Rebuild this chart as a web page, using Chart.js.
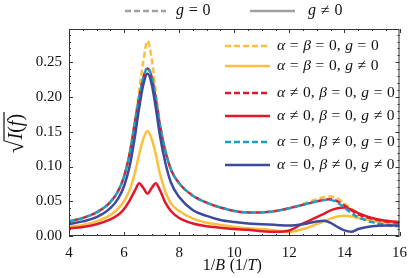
<!DOCTYPE html>
<html>
<head>
<meta charset="utf-8">
<script src="https://cdn.jsdelivr.net/npm/chart.js@4.4.1/dist/chart.umd.min.js"></script>
<style>
  html, body { margin: 0; padding: 0; background: #fff; }
  canvas { display: block; }
</style>
</head>
<body>
<canvas id="myChart" width="415" height="278"></canvas>
<script>
// x positions (1/B) shared by all curves
const xs = [4, 4.5, 5, 5.5, 5.8, 6.0, 6.2, 6.4, 6.55, 6.7, 6.85, 7.0, 7.15, 7.3, 7.5, 7.7, 8.0, 8.5, 9, 9.5,
            10, 10.5, 11, 11.5, 12, 12.5, 13, 13.25, 13.5, 13.75, 14, 14.25, 14.5, 15, 15.5, 16];

// sqrt(I(f))
const yellowDash = [0.021, 0.026, 0.034, 0.049, 0.066, 0.086, 0.119, 0.168, 0.210, 0.252, 0.281, 0.256, 0.208, 0.163, 0.123, 0.096, 0.076, 0.058, 0.048, 0.041,
                    0.036, 0.034, 0.034, 0.036, 0.040, 0.046, 0.053, 0.056, 0.057, 0.054, 0.047, 0.039, 0.032, 0.025, 0.022, 0.020];
const yellowSolid = [0.013, 0.016, 0.021, 0.030, 0.040, 0.050, 0.066, 0.092, 0.118, 0.140, 0.151, 0.140, 0.118, 0.090, 0.064, 0.047, 0.036, 0.025, 0.019, 0.016,
                     0.013, 0.011, 0.010, 0.008, 0.006, 0.010, 0.017, 0.021, 0.025, 0.028, 0.029, 0.028, 0.026, 0.022, 0.019, 0.017];
const redDash = [0.021, 0.026, 0.034, 0.049, 0.066, 0.086, 0.118, 0.165, 0.200, 0.228, 0.241, 0.229, 0.198, 0.160, 0.122, 0.096, 0.076, 0.058, 0.048, 0.041,
                 0.036, 0.034, 0.034, 0.036, 0.040, 0.045, 0.050, 0.052, 0.053, 0.050, 0.044, 0.037, 0.031, 0.025, 0.021, 0.019];
const redSolid = [0.011, 0.013, 0.017, 0.024, 0.031, 0.039, 0.051, 0.066, 0.076, 0.069, 0.061, 0.069, 0.076, 0.066, 0.048, 0.036, 0.026, 0.018, 0.014, 0.012,
                  0.010, 0.009, 0.007, 0.006, 0.008, 0.018, 0.027, 0.032, 0.037, 0.040, 0.041, 0.038, 0.033, 0.026, 0.022, 0.020];
const cyanDash = [0.021, 0.026, 0.034, 0.049, 0.066, 0.086, 0.118, 0.165, 0.200, 0.228, 0.242, 0.230, 0.198, 0.160, 0.122, 0.096, 0.076, 0.058, 0.048, 0.041,
                  0.036, 0.034, 0.034, 0.036, 0.040, 0.045, 0.050, 0.052, 0.052, 0.048, 0.041, 0.033, 0.027, 0.020, 0.016, 0.014];
const navySolid = [0.017, 0.021, 0.027, 0.040, 0.055, 0.072, 0.100, 0.145, 0.185, 0.218, 0.234, 0.219, 0.185, 0.145, 0.105, 0.077, 0.056, 0.037, 0.029, 0.023,
                   0.020, 0.018, 0.017, 0.016, 0.015, 0.017, 0.021, 0.022, 0.019, 0.013, 0.008, 0.006, 0.010, 0.014, 0.015, 0.015];

const seriesLabels = ['α = β = 0, g = 0', 'α = β = 0, g ≠ 0',
                      'α ≠ 0, β = 0, g = 0', 'α ≠ 0, β = 0, g ≠ 0',
                      'α = 0, β ≠ 0, g = 0', 'α = 0, β ≠ 0, g ≠ 0'];
const styleLabels = ['g = 0', 'g ≠ 0'];

const YELLOW = '#fcc03c', RED = '#e3172c', CYAN = '#1b9dc5', NAVY = '#3b4a9c', GRAY = '#a0a0a0';
const FONT = '"Liberation Serif", "DejaVu Serif", serif';

const series = [
  { data: yellowDash, color: YELLOW, dash: true, offset: 2 },
  { data: yellowSolid, color: YELLOW, dash: false },
  { data: redDash, color: RED, dash: true, offset: 5 },
  { data: redSolid, color: RED, dash: false },
  { data: cyanDash, color: CYAN, dash: true, offset: 0 },
  { data: navySolid, color: NAVY, dash: false }
];

// draw text where letters are italic (math style)
function drawMath(ctx, str, x, y, size, align) {
  const parts = [];
  let w = 0;
  for (const ch of str) {
    const it = /[A-Za-zαβ]/.test(ch);
    ctx.font = (it ? 'italic ' : '') + size + 'px ' + FONT;
    const cw = ch === ' ' ? size * 0.3 : ctx.measureText(ch).width;
    parts.push([ch, it, cw]);
    w += cw;
  }
  let cx = align === 'center' ? x - w / 2 : (align === 'right' ? x - w : x);
  ctx.textAlign = 'left';
  ctx.textBaseline = 'middle';
  for (const [ch, it, cw] of parts) {
    if (ch !== ' ') {
      ctx.font = (it ? 'italic ' : '') + size + 'px ' + FONT;
      ctx.fillText(ch, cx, y);
    }
    cx += cw;
  }
  return w;
}

const decorPlugin = {
  id: 'decor',
  afterDraw(chart) {
    const ctx = chart.ctx;
    const ca = chart.chartArea;
    const sx = chart.scales.x, sy = chart.scales.y;
    ctx.save();

    // frame
    ctx.strokeStyle = '#333';
    ctx.lineWidth = 1;
    ctx.strokeRect(ca.left + 0.5, ca.top + 0.5, ca.right - ca.left - 1, ca.bottom - ca.top - 1);

    // inward ticks on all four sides
    ctx.beginPath();
    for (let i = 0; i <= 24; i++) {
      const px = Math.round(sx.getPixelForValue(4 + i * 0.5)) + 0.5;
      const len = i % 4 === 0 ? 4 : 2;
      ctx.moveTo(px, ca.bottom); ctx.lineTo(px, ca.bottom - len);
      ctx.moveTo(px, ca.top); ctx.lineTo(px, ca.top + len);
    }
    for (let i = 0; i <= 29; i++) {
      const py = Math.round(sy.getPixelForValue(i * 0.01)) + 0.5;
      const len = i % 5 === 0 ? 4 : 2;
      ctx.moveTo(ca.left, py); ctx.lineTo(ca.left + len, py);
      ctx.moveTo(ca.right, py); ctx.lineTo(ca.right - len, py);
    }
    ctx.stroke();

    ctx.fillStyle = '#111';
    ctx.lineWidth = 2.5;

    // top legend (line style)
    ctx.strokeStyle = GRAY;
    ctx.setLineDash([6, 3]);
    ctx.beginPath(); ctx.moveTo(125, 11); ctx.lineTo(166, 11); ctx.stroke();
    ctx.setLineDash([]);
    ctx.beginPath(); ctx.moveTo(250, 11); ctx.lineTo(295, 11); ctx.stroke();
    drawMath(ctx, styleLabels[0], 176, 11, 16, 'left');
    drawMath(ctx, styleLabels[1], 308, 11, 16, 'left');

    // inner legend
    const rows = [46, 66, 93, 116, 142, 165];
    series.forEach((s, i) => {
      ctx.strokeStyle = s.color;
      ctx.lineWidth = 2.5;
      ctx.setLineDash(s.dash ? [6, 3] : []);
      ctx.beginPath(); ctx.moveTo(225, rows[i]); ctx.lineTo(270, rows[i]); ctx.stroke();
      ctx.setLineDash([]);
      drawMath(ctx, seriesLabels[i], 277, rows[i], 15.5, 'left');
    });

    // x title
    drawMath(ctx, '1/B (1/T)', (ca.left + ca.right) / 2 - 2, 266, 16, 'center');

    // y title: sqrt(I(f))
    ctx.translate(16, (ca.top + ca.bottom) / 2);
    ctx.rotate(-Math.PI / 2);
    ctx.font = '23px ' + FONT;
    const rw = ctx.measureText('√').width;
    ctx.font = 'italic 20px ' + FONT;
    const tw = ctx.measureText('I(f)').width + 3;
    const start = -(rw + tw) / 2;
    ctx.textAlign = 'left';
    ctx.textBaseline = 'middle';
    ctx.font = '23px ' + FONT;
    ctx.fillText('√', start, 1);
    drawMath(ctx, 'I(f)', start + rw + 1, 1, 20, 'left');
    ctx.lineWidth = 1.2;
    ctx.strokeStyle = '#111';
    ctx.beginPath(); ctx.moveTo(start + rw - 1, -12); ctx.lineTo(start + rw + tw, -12); ctx.stroke();

    ctx.restore();
  }
};

const datasets = series.map((s, i) => ({
  data: xs.map((x, k) => ({ x: x, y: s.data[k] })),
  borderColor: s.color,
  borderWidth: 2.5,
  borderDash: s.dash ? [6, 3] : [],
  borderDashOffset: s.offset || 0,
  pointRadius: 0,
  fill: false,
  cubicInterpolationMode: 'monotone',
  order: 6 - i
}));

new Chart(document.getElementById('myChart'), {
  type: 'line',
  data: { datasets: datasets },
  options: {
    responsive: false,
    animation: false,
    devicePixelRatio: 1,
    layout: { padding: { top: 29, right: 8, left: 0, bottom: 0 } },
    plugins: { legend: { display: false }, tooltip: { enabled: false } },
    scales: {
      x: {
        type: 'linear', min: 4, max: 16,
        grid: { display: false, drawTicks: false },
        border: { display: false },
        ticks: { stepSize: 2, padding: 8, color: '#111', font: { family: FONT, size: 15 }, maxRotation: 0 },
        afterFit: (s) => { s.height = 42; }
      },
      y: {
        min: 0, max: 0.298,
        grid: { display: false, drawTicks: false },
        border: { display: false },
        ticks: { stepSize: 0.05, includeBounds: false, padding: 7, color: '#111', font: { family: FONT, size: 15 },
                 callback: (v) => v.toFixed(2) },
        afterFit: (s) => { s.width = 69; }
      }
    }
  },
  plugins: [decorPlugin]
});
</script>
</body>
</html>
